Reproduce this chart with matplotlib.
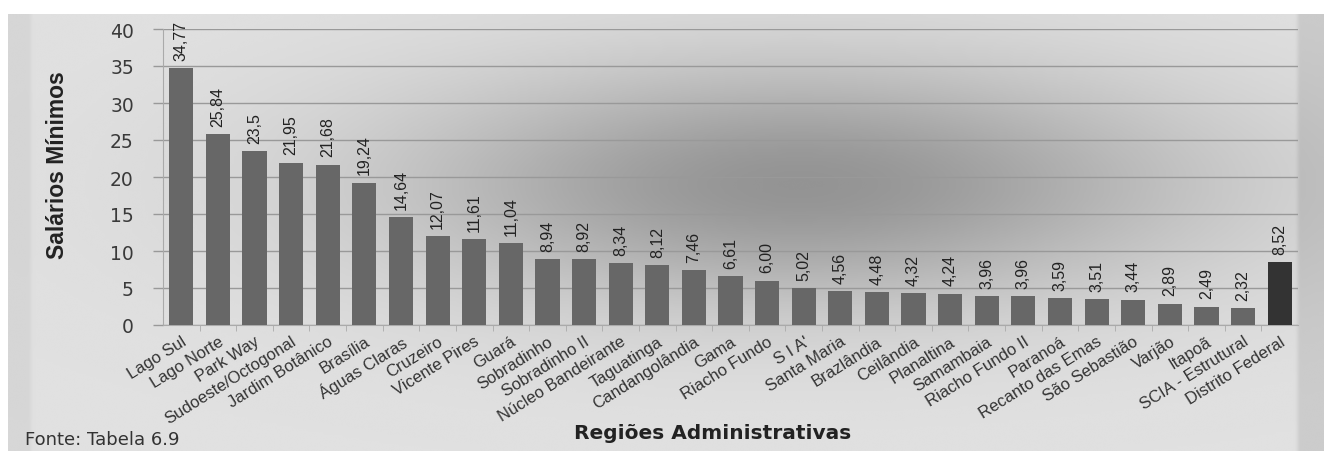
import numpy             as np
import matplotlib.pyplot as plt


# Chart data
regioes = ['Lago Sul', 'Lago Norte', 'Park Way', 'Sudoeste/Octogonal',
           'Jardim Botânico', 'Brasília', 'Águas Claras', 'Cruzeiro',
           'Vicente Pires', 'Guará', 'Sobradinho', 'Sobradinho II',
           'Núcleo Bandeirante', 'Taguatinga', 'Candangolândia', 'Gama',
           'Riacho Fundo', "S I A'", 'Santa Maria', 'Brazlândia',
           'Ceilândia', 'Planaltina', 'Samambaia', 'Riacho Fundo II',
           'Paranoá', 'Recanto das Emas', 'São Sebastião', 'Varjão',
           'Itapoã', 'SCIA - Estrutural', 'Distrito Federal']
salarios = [34.77, 25.84, 23.5, 21.95, 21.68, 19.24, 14.64, 12.07,
            11.61, 11.04, 8.94, 8.92, 8.34, 8.12, 7.46, 6.61,
            6.00, 5.02, 4.56, 4.48, 4.32, 4.24, 3.96, 3.96,
            3.59, 3.51, 3.44, 2.89, 2.49, 2.32, 8.52]
rotulos  = ['34,77', '25,84', '23,5', '21,95', '21,68', '19,24', '14,64',
            '12,07', '11,61', '11,04', '8,94', '8,92', '8,34', '8,12',
            '7,46', '6,61', '6,00', '5,02', '4,56', '4,48', '4,32', '4,24',
            '3,96', '3,96', '3,59', '3,51', '3,44', '2,89', '2,49', '2,32',
            '8,52']
y_ticks  = [0, 5, 10, 15, 20, 25, 30, 35, 40]

arial = ['Liberation Sans', 'DejaVu Sans']

fig = plt.figure(figsize=(13.24, 4.52), dpi=100)
fig.patch.set_facecolor('white')

#   Gray gradient background
bg = fig.add_axes([8 / 1324, 0, 1 - 8 / 1324, 1 - 15 / 452], zorder=0)
xx, yy = np.meshgrid(np.linspace(8, 1324, 400), np.linspace(15, 452, 150))
shade = 0.88 - 0.30 * np.exp(-((xx - 800) / 400) ** 2 - ((yy - 185) / 120) ** 2)
shade = shade - 0.04 * (xx < 30) - 0.08 * (xx > 1298)
bg.imshow(shade, cmap='gray', vmin=0, vmax=1, aspect='auto',
          extent=[0, 1, 0, 1], interpolation='bicubic')
bg.axis('off')

#   Bars
ax = fig.add_axes([163 / 1324, 1 - 326 / 452, (1298 - 163) / 1324,
                   (326 - 30) / 452], zorder=1)
ax.patch.set_alpha(0)
x = np.arange(len(regioes))
cores = ['#676767'] * (len(regioes) - 1) + ['#333333']
ax.bar(x, salarios, width=0.66, color=cores, zorder=3)
for xi, v, r in zip(x, salarios, rotulos):
    ax.text(xi, v + 1.1, r, rotation=90, ha='center', va='bottom',
            fontsize=11.5, family=arial, color='#222222')

#   Axes styling
ax.set_xlim(-0.5, len(regioes) - 0.5)
ax.set_ylim(0, 40)
ax.set_yticks(y_ticks)
ax.set_yticklabels([str(t) for t in y_ticks], fontsize=13.5, color='#3a3a3a')
ax.tick_params(axis='y', length=7, width=1, color='#999999', pad=14)
ax.yaxis.grid(True, color='#999999', lw=1, zorder=1)
ax.set_xticks(x)
ax.set_xticklabels(regioes, rotation=32, ha='right', rotation_mode='anchor',
                   fontsize=12, family=arial, color='#333333')
ax.tick_params(axis='x', length=0, pad=6)
ax.set_xticks(x[:-1] + 0.5, minor=True)
ax.tick_params(axis='x', which='minor', length=4, color='#aaaaaa')
for s in ['top', 'right']:
    ax.spines[s].set_visible(False)
ax.spines['left'].set_color('#aaaaaa')
ax.spines['bottom'].set_color('#aaaaaa')

#   Labels
fig.text(58 / 1324, 1 - 165 / 452, 'Salários Mínimos', rotation=90,
         ha='center', va='center', fontsize=16.5, fontweight='bold',
         family=arial, color='#222222')
fig.text(713 / 1324, 1 - 434 / 452, 'Regiões Administrativas',
         ha='center', va='center', fontsize=14.5, fontweight='bold',
         color='#222222')
fig.text(25 / 1324, 1 - 440 / 452, 'Fonte: Tabela 6.9',
         ha='left', va='center', fontsize=13, color='#333333')

plt.savefig('out.png', dpi=100)
